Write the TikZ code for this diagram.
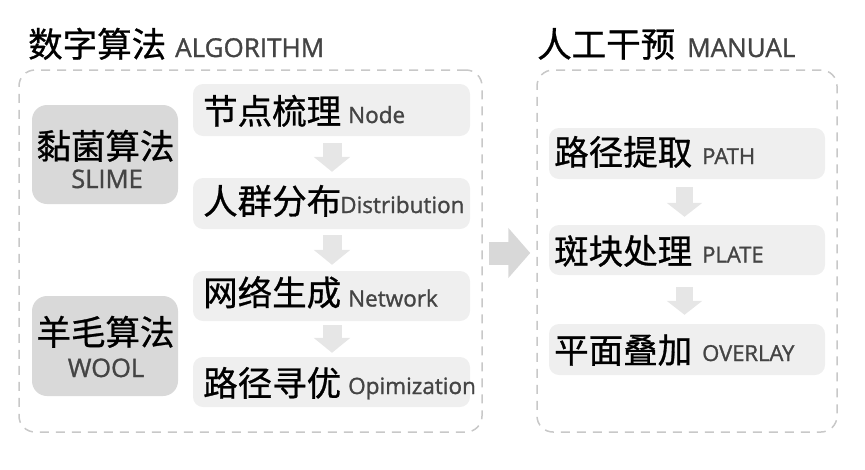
\documentclass[tikz,border=0pt]{standalone}
\usepackage{fontspec}
\setmainfont{Open Sans}[FakeBold=1.2]
\newfontfamily\cjk{Noto Sans CJK SC}[FakeBold=0.8]
\usetikzlibrary{arrows.meta}
\definecolor{boxgray}{HTML}{EFEFEF}
\definecolor{algogray}{HTML}{D9D9D9}
\definecolor{dashgray}{HTML}{C8C8C8}
\definecolor{engray}{HTML}{444444}
\definecolor{arrgray}{HTML}{E6E6E6}
\definecolor{bigarr}{HTML}{D8D8D8}
\tikzset{
  panel/.style={draw=dashgray, line width=1.5pt, dash pattern=on 9pt off 7pt, rounded corners=16pt, inner sep=0pt},
  stepbox/.style={fill=boxgray, rounded corners=10pt, minimum width=277pt, inner sep=0pt},
  algobox/.style={fill=algogray, rounded corners=15pt, minimum width=146pt, inner sep=0pt},
  cjktxt/.style={inner sep=0pt, text=black, font=\cjk\fontsize{34.5}{40}\selectfont},
  entxt/.style={inner sep=0pt, text=engray, font=\fontsize{22.5}{26}\selectfont},
  entxtR/.style={inner sep=0pt, text=engray, font=\fontsize{22}{26}\selectfont},
  titleen/.style={inner sep=0pt, text=engray, font=\fontsize{26}{30}\selectfont},
  algoen/.style={inner sep=0pt, text=engray, font=\fontsize{25.5}{30}\selectfont},
  blockarrow/.style={draw=arrgray, line width=19pt, -{Triangle[length=15pt,width=36pt]}, arrgray},
  blockarrowR/.style={draw=arrgray, line width=17pt, -{Triangle[length=14pt,width=35pt]}, arrgray},
  bigarrow/.style={draw=bigarr, line width=23pt, -{Triangle[length=22pt,width=49pt]}, bigarr}
}
\begin{document}
\begin{tikzpicture}[x=1pt, y=-1pt]
\useasboundingbox (0,0) rectangle (865,469);
% titles
\node[cjktxt, anchor=base west] (t1c) at (28,57) {数字算法};
\node[titleen, anchor=base west] (t1e) at (175,57) {ALGORITHM};
\node[cjktxt, anchor=base west] (t2c) at (537,57) {人工干预};
\node[titleen, anchor=base west] (t2e) at (687,57) {MANUAL};
% panels
\node[panel, minimum width=463pt, minimum height=362pt] (lp) at (250.5,251) {};
\node[panel, minimum width=300pt, minimum height=362pt] (rp) at (687,251) {};
% algorithm boxes
\node[algobox, minimum height=99pt] (slime) at (105,154.5) {};
\node[cjktxt, anchor=base] (slimec) at (105.5,159) {黏菌算法};
\node[algoen, anchor=base] (slimee) at (107,188) {SLIME};
\node[algobox, minimum height=100pt] (wool) at (105,346) {};
\node[cjktxt, anchor=base] (woolc) at (105.5,345) {羊毛算法};
\node[algoen, anchor=base] (woole) at (106,377) {WOOL};
% left steps
\node[stepbox, minimum height=52pt] (n1) at (331.5,110) {};
\node[stepbox, minimum height=51pt] (n2) at (331.5,203.5) {};
\node[stepbox, minimum height=50pt] (n3) at (331.5,296) {};
\node[stepbox, minimum height=50pt] (n4) at (331.5,382) {};
\node[cjktxt, anchor=base west] (n1c) at (203,124) {节点梳理};
\node[entxt, anchor=base west] (n1e) at (348,123) {Node};
\node[cjktxt, anchor=base west] (n2c) at (203,214) {人群分布};
\node[entxt, anchor=base west] (n2e) at (340,213) {Distribution};
\node[cjktxt, anchor=base west] (n3c) at (203,305.5) {网络生成};
\node[entxt, anchor=base west] (n3e) at (348,306.5) {Network};
\node[cjktxt, anchor=base west] (n4c) at (203,396) {路径寻优};
\node[entxt, anchor=base west] (n4e) at (348,394) {Opimization};
% right steps
\node[stepbox, minimum width=276pt, minimum height=51pt] (m1) at (687,153.5) {};
\node[stepbox, minimum width=276pt, minimum height=50pt] (m2) at (687,250) {};
\node[stepbox, minimum width=276pt, minimum height=51pt] (m3) at (687,349.5) {};
\node[cjktxt, anchor=base west] (m1c) at (554,165) {路径提取};
\node[entxtR, anchor=base west] (m1e) at (702,164) {PATH};
\node[cjktxt, anchor=base west] (m2c) at (554,264) {斑块处理};
\node[entxtR, anchor=base west] (m2e) at (702,262.5) {PLATE};
\node[cjktxt, anchor=base west] (m3c) at (554,363) {平面叠加};
\node[entxtR, anchor=base west] (m3e) at (702,361) {OVERLAY};
% arrows
\draw[blockarrow] ([xshift=0.5pt,yshift=-7pt]n1.south) -- ([xshift=0.5pt,yshift=6pt]n2.north);
\draw[blockarrow] ([xshift=0.5pt,yshift=-6pt]n2.south) -- ([xshift=0.5pt,yshift=6pt]n3.north);
\draw[blockarrow] ([xshift=0.5pt,yshift=-4pt]n3.south) -- ([xshift=0.5pt,yshift=4pt]n4.north);
\draw[blockarrowR] ([xshift=-2.5pt,yshift=-8pt]m1.south) -- ([xshift=-2.5pt,yshift=8pt]m2.north);
\draw[blockarrowR] ([xshift=-2.5pt,yshift=-12pt]m2.south) -- ([xshift=-2.5pt,yshift=9pt]m3.north);
\draw[bigarrow] ([xshift=6pt,yshift=-2pt]lp.east) -- ([xshift=-6pt,yshift=-2pt]rp.west);
\end{tikzpicture}
\end{document}
